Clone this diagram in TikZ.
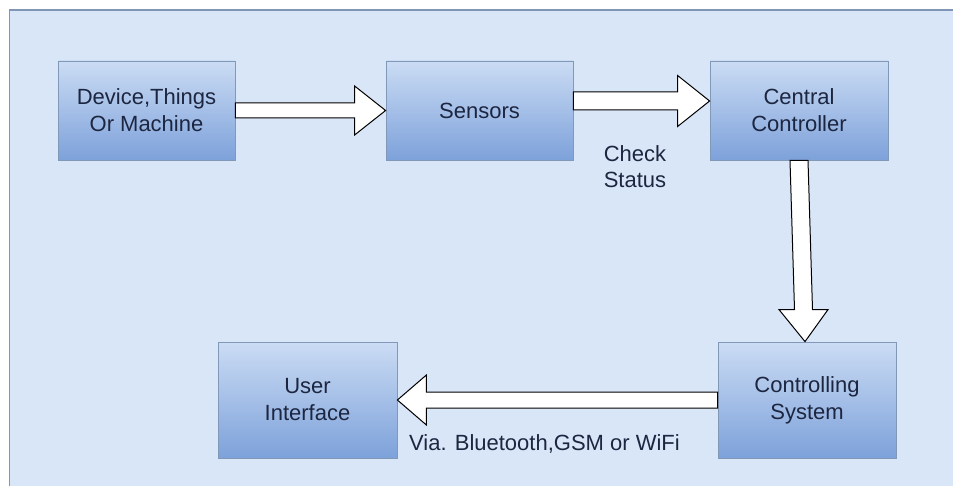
\documentclass[tikz,border=0pt]{standalone}
\usepackage{fontspec}
\setmainfont{Liberation Sans}
\usetikzlibrary{calc}
\definecolor{bgc}{HTML}{D9E6F8}
\definecolor{panelline}{HTML}{8195B4}
\definecolor{boxline}{HTML}{8298B8}
\definecolor{boxtop}{HTML}{CBDCF4}
\definecolor{boxbot}{HTML}{7DA1DA}
\definecolor{textc}{HTML}{1D2640}
\tikzset{
  block/.style={draw=boxline, line width=0.8pt, top color=boxtop, bottom color=boxbot,
    inner sep=0pt, align=center, text=textc, font=\fontsize{22}{27}\selectfont},
  lbl/.style={inner sep=0pt, align=center, text=textc, font=\fontsize{22}{26}\selectfont},
  fatarrow/.style={draw=black, line width=1pt, fill=white, line join=miter}
}
\begin{document}
\begin{tikzpicture}[x=1pt,y=-1pt]
\useasboundingbox (0,0) rectangle (953,486);
\clip (0,0) rectangle (953,486);
\fill[white] (0,0) rectangle (953,486);
\filldraw[fill=bgc, draw=panelline, line width=1.2pt] (9.5,10) rectangle (980,520);

\node[block, minimum width=177pt, minimum height=99pt] (dev) at (146.5,110.5) {Device,Things\\Or Machine};
\node[block, minimum width=187pt, minimum height=99pt] (sen) at (479.5,110.5) {Sensors};
\node[block, minimum width=178pt, minimum height=99pt] (cc) at (799,110.5) {Central\\Controller};
\node[block, minimum width=179pt, minimum height=116pt] (ui) at (307.5,400) {User\\Interface};
\node[block, minimum width=178pt, minimum height=116pt] (cs) at (807,400) {Controlling\\System};

% Device -> Sensors
\draw[fatarrow] let \p1=(dev.east), \p2=(sen.west) in
  (\x1,\y1+7.5pt) -- (\x2-31pt,\y1+7.5pt) -- (\x2-31pt,\y1+24.5pt) -- (\x2,\y1)
  -- (\x2-31pt,\y1-24.5pt) -- (\x2-31pt,\y1-7.5pt) -- (\x1,\y1-7.5pt) -- cycle;

% Sensors -> Central Controller
\draw[fatarrow] let \p1=([yshift=9.5pt]sen.east), \p2=(cc.west) in
  (\x1,\y1+9pt) -- (\x2-32pt,\y1+9pt) -- (\x2-32pt,\y1+25.5pt) -- (\x2,\y1)
  -- (\x2-32pt,\y1-25.5pt) -- (\x2-32pt,\y1-9pt) -- (\x1,\y1-9pt) -- cycle;

% Central Controller -> Controlling System
\draw[fatarrow] let \p1=(cc.south), \p2=(cs.north) in
  (\x1-9pt,\y1) -- (\x1-4.5pt,\y2+32pt) -- (\x1-20pt,\y2+32pt) -- (\x1+6pt,\y2)
  -- (\x1+29pt,\y2+32pt) -- (\x1+13.5pt,\y2+32pt) -- (\x1+9pt,\y1) -- cycle;

% Controlling System -> User Interface
\draw[fatarrow] let \p1=(cs.west), \p2=(ui.east) in
  (\x1,\y1+8pt) -- (\x2+29pt,\y1+8pt) -- (\x2+29pt,\y1+25pt) -- (\x2,\y1)
  -- (\x2+29pt,\y1-25pt) -- (\x2+29pt,\y1-8pt) -- (\x1,\y1-8pt) -- cycle;

\node[lbl] (check) at (635,167) {Check\\Status};
\node[lbl, anchor=base] (via) at (544.5,450) {Via. Bluetooth,GSM or WiFi};
\end{tikzpicture}
\end{document}
